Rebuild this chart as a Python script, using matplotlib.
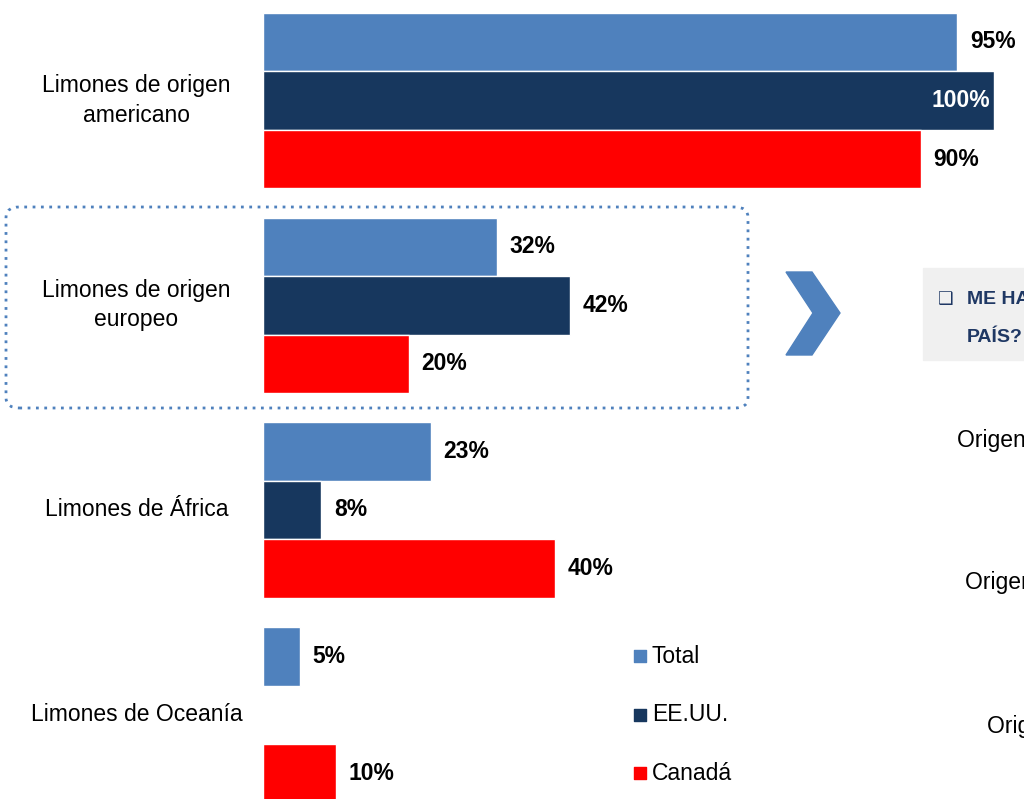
import matplotlib.pyplot as plt
import numpy as np
from matplotlib.patches import FancyBboxPatch, Polygon, Rectangle

plt.rcParams['font.family'] = ['Liberation Sans', 'DejaVu Sans']

categories = ["Limones de origen\namericano", "Limones de origen\neuropeo",
              "Limones de África", "Limones de Oceanía"]
series = ["Total", "EE.UU.", "Canadá"]
total = [95, 32, 23, 5]
eeuu = [100, 42, 8, 0]
canada = [90, 20, 40, 10]
colors = ["#4f81bd", "#17375e", "#ff0000"]

W, H = 1024, 799
fig = plt.figure(figsize=(W / 100, H / 100), dpi=100)

# axes: x=0 at px 263, x=100 at px 994; bar pitch 58.5 px, first bar centre at 42 px
px = 58.5
top = 42 - 0.5 * px
nunits = (H - top) / px
ax = fig.add_axes([263 / W, 0, (994 - 263) / W, 1 - top / H])
ax.set_xlim(0, 100)
ax.set_ylim(nunits - 0.5, -0.5)
ax.axis("off")

g = np.arange(len(categories)) * 3.5
for s, (name, vals, c) in enumerate(zip(series, [total, eeuu, canada], colors)):
    y = g + s
    ax.barh(y, vals, height=1.0, color=c, edgecolor="white", linewidth=1, label=name)
    for yi, v in zip(y, vals):
        if v == 0:
            continue
        if v >= 100:
            ax.text(v - 0.5, yi, f"{v}%", ha="right", va="center", color="white",
                    fontsize=16.5, fontweight="bold")
        else:
            ax.text(v + 1.7, yi, f"{v}%", ha="left", va="center", color="black",
                    fontsize=16.5, fontweight="bold")

for gi, cat in zip(g, categories):
    yc = gi + 1
    ax.text(-17.3, yc, cat, ha="center", va="center", fontsize=16.5,
            linespacing=1.35, clip_on=False)

# legend next to the Oceanía group
for s, (name, c) in enumerate(zip(series, colors)):
    y = g[-1] + s
    ax.scatter([51.6], [y], marker="s", s=70, color=c, clip_on=False)
    ax.text(53.2, y, name, ha="left", va="center", fontsize=16.5, clip_on=False)

def fx(x):
    return x / W

def fy(y):
    return 1 - y / H

# dotted rounded box around the European group
box = FancyBboxPatch((fx(6), fy(408)), fx(742), (408 - 207) / H,
                     boxstyle="round,pad=0,rounding_size=0.013",
                     transform=fig.transFigure, fill=False,
                     edgecolor="#4f81bd", linestyle=(0, (1, 2)), linewidth=2)
fig.patches.append(box)

# chevron
chev = [(786, 272), (812, 272), (840, 313), (812, 355), (786, 355), (813, 313)]
fig.patches.append(Polygon([(fx(a), fy(b)) for a, b in chev], closed=True,
                           transform=fig.transFigure, color="#4f81bd"))

# grey side panel
fig.patches.append(Rectangle((fx(923), fy(360)), fx(110), (360 - 268) / H,
                             transform=fig.transFigure, color="#f0f0f0"))
fig.text(fx(938), fy(299), "❑", fontsize=12.5, color="#1f3864", va="center",
         family=['DejaVu Sans'])
fig.text(fx(967), fy(299), "ME HAN OFRECIDO", fontsize=14, color="#1f3864",
         fontweight="bold", va="center")
fig.text(fx(967), fy(337), "PAÍS?", fontsize=14, color="#1f3864",
         fontweight="bold", va="center")

fig.text(fx(957), fy(440), "Origen americano", fontsize=16.5, va="center")
fig.text(fx(965), fy(583), "Origen europeo", fontsize=16.5, va="center")
fig.text(fx(987), fy(727), "Origen africano", fontsize=16.5, va="center")

fig.savefig("out.png", dpi=100)
